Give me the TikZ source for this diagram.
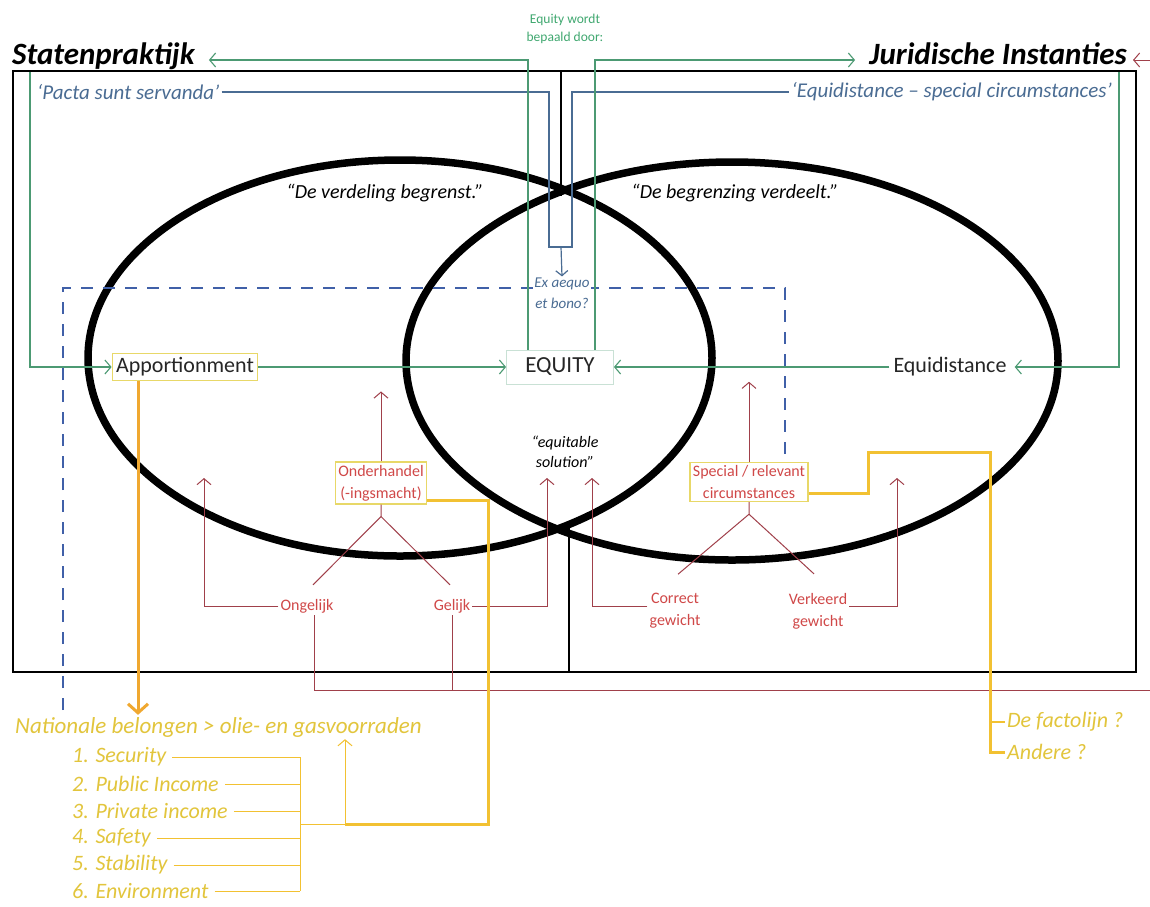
\documentclass[tikz,border=0pt]{standalone}
\usepackage{fontspec}
\setmainfont{Carlito}
\usetikzlibrary{arrows.meta,calc}
\definecolor{groen}{RGB}{76,154,115}
\definecolor{groentekst}{RGB}{64,168,112}
\definecolor{blauw}{RGB}{74,108,147}
\definecolor{blauwstreep}{RGB}{64,96,168}
\definecolor{roodlijn}{RGB}{160,64,74}
\definecolor{roodtekst}{RGB}{208,72,72}
\definecolor{geelrand}{RGB}{232,216,104}
\definecolor{geel}{RGB}{242,193,50}
\definecolor{oranje}{RGB}{240,168,48}
\definecolor{geeltekst}{RGB}{226,197,60}
\tikzset{%
    Titel/.style={%
        font=\fontsize{31}{36}\selectfont\bfseries\itshape,
        inner sep=0pt
    },
    Citaat/.style={%
        font=\fontsize{20}{24}\selectfont\itshape
    },
    Bron/.style={%
        font=\fontsize{21}{24}\selectfont\itshape,
        text=blauw,
        inner sep=2pt
    },
    Begrip/.style={%
        font=\fontsize{22}{26}\selectfont,
        text=black!85,
        inner sep=4pt
    },
    Begrip box/.style={%
        Begrip,
        draw=geelrand,
        line width=1pt
    },
    Factor/.style={%
        font=\fontsize{16}{22}\selectfont,
        text=roodtekst,
        align=center,
        inner sep=2pt
    },
    Factor box/.style={%
        Factor,
        draw=geelrand,
        line width=1.2pt,
        inner sep=3pt
    },
    Belang/.style={%
        font=\fontsize{22}{26}\selectfont\itshape,
        text=geeltekst,
        inner sep=2pt
    },
    Groen pijl/.style={%
        draw=groen,
        line width=1.1pt,
        -{Straight Barb[length=6pt,width=14pt]}
    },
    Rood lijn/.style={%
        draw=roodlijn,
        line width=1pt
    },
    Rood pijl/.style={%
        Rood lijn,
        -{Straight Barb[length=6pt,width=14pt]}
    },
    Blauw lijn/.style={%
        draw=blauw,
        line width=1.2pt
    },
    Geel dik/.style={%
        draw=geel,
        line width=3pt
    },
    Geel dun/.style={%
        draw=geel,
        line width=1pt
    }
}

\begin{document}
\begin{tikzpicture}[x=1pt,y=-1pt]
\useasboundingbox (0,0) rectangle (1150,906);
\fill[white] (0,0) rectangle (1150,906);

% kader en scheiding
\draw[line width=1.6pt] (13,71) rectangle (1136,672);
\draw[line width=1.4pt] (561,71) -- (561,196);
\draw[line width=1.4pt] (569,527) -- (569,672);

% titels
\node[Titel,anchor=base west] (staten) at (12,64) {Statenpraktijk};
\node[Titel,anchor=base east] (jur) at (1127,64) {Juridische Instanties};
\node[font=\fontsize{13.5}{18}\selectfont,text=groentekst,align=center]
    (bepaald) at (565,29) {Equity wordt\\bepaald door:};

% twee benaderingen
\draw[line width=7.5pt] (400,358) ellipse [x radius=312, y radius=198];
\draw[line width=7.5pt] (732,361) ellipse [x radius=326, y radius=199];

\node[Citaat] (verdeling) at (385,193) {“De verdeling begrenst.”};
\node[Citaat] (begrenzing) at (735,193) {“De begrenzing verdeelt.”};

\node[Bron,anchor=west] (pacta) at (35,92) {‘Pacta sunt servanda’};
\node[Bron,anchor=east] (equiq) at (1114,92)
    {‘Equidistance – special circumstances’};

% kernbegrippen
\node[Begrip box] (apport) at (185,367) {Apportionment};
\node[Begrip,draw=groen!30,line width=0.8pt,minimum width=107pt,
    minimum height=34pt,font=\fontsize{23}{26}\selectfont]
    (equity) at (560,367) {EQUITY};
\node[Begrip] (equid) at (950,367) {Equidistance};
\node[font=\fontsize{16}{20}\selectfont\itshape,align=center]
    (oplossing) at (565,452) {“equitable\\solution”};

\node[Factor box] (onder) at (381,483) {Onderhandel\\(-ingsmacht)};
\node[Factor] (onge) at (307,606) {Ongelijk};
\node[Factor] (gelijk) at (452,606) {Gelijk};
\node[Factor box] (spec) at (749,482) {Special / relevant\\circumstances};
\node[Factor] (correct) at (675,611) {Correct\\gewicht};
\node[Factor] (verkeerd) at (818,611) {Verkeerd\\gewicht};

% streepjeslijn
\draw[blauwstreep,line width=1.2pt,dash pattern=on 12pt off 10pt]
    (63,710) -- (63,288) -- (785,288) -- (spec.north -| 785,0);

\node[font=\fontsize{15}{21}\selectfont\itshape,text=blauw,fill=white,
    align=center,inner sep=1pt] (aequo) at (562,293) {Ex aequo\\et bono?};
\draw[Blauw lijn] (pacta.east) -- (549,92) -- (549,247) -- (572,247)
    -- (572,92) -- (equiq.west);
\draw[Blauw lijn,-{Straight Barb[length=5pt,width=12pt]}]
    (561,247) -- (aequo.north);

% groene pijlen
\coordinate (staten voet) at (30,72);
\coordinate (jur voet) at (1119,72);
\draw[Groen pijl] (apport.east) -- (equity.west);
\draw[Groen pijl] (equid.west) -- (equity.east);
\draw[Groen pijl] (staten voet) |- (apport.west);
\draw[Groen pijl] (jur voet) |- ([xshift=4pt]equid.east);
\draw[Groen pijl] ([xshift=-32pt]equity.north)
    |- ($(staten.base east)+(14,-4)$);
\draw[Groen pijl] ([xshift=35pt]equity.north)
    |- ($(jur.base west)+(-14,-4)$);

% rode pijlen
\draw[Rood pijl] (onder.north) -- ++(0,-70);
\draw[Rood lijn] (onder.south) -- ++(0,12) coordinate (onder tak)
    -- ([shift={(6,-12)}]onge.north);
\draw[Rood lijn] (onder tak) -- ([shift={(-2,-12)}]gelijk.north);
\draw[Rood pijl] (onge.west) -| (204,478);
\draw[Rood pijl] (gelijk.east) -| (547,478);

\draw[Rood pijl] (spec.north) -- ++(0,-80);
\draw[Rood lijn] (spec.south) -- ++(0,12) coordinate (spec tak)
    -- ([shift={(3,-17)}]correct.north);
\draw[Rood lijn] (spec tak) -- ([shift={(-4,-17)}]verkeerd.north);
\draw[Rood pijl] ([yshift=5pt]correct.west) -| (592,478);
\draw[Rood pijl] ([yshift=5pt]verkeerd.east) -| (897,478);

\draw[Rood pijl] ([xshift=7pt]onge.south) |- (1160,690)
    |- ($(jur.base east)+(6,-4)$);
\draw[Rood lijn] (gelijk.south) -- (gelijk.south |- 0,690);

% nationale belangen
\node[Belang,font=\fontsize{23}{26}\selectfont\itshape,anchor=west] (nat)
    at (13,727) {Nationale belongen > olie- en gasvoorraden};
\draw[draw=oranje,line width=3pt,-{Straight Barb[length=9pt,width=20pt]}]
    (apport.south -| 138,0) -- (nat.north -| 138,0);

\foreach \nr/\tekst/\y in {1/Security/757,2/Public Income/784,
    3/Private income/811,4/Safety/838,5/Stability/865,6/Environment/891}{
    \node[Belang,anchor=west] (belang\nr) at (70,\y) {\nr. \tekst};
    \draw[Geel dun] ([xshift=4pt]belang\nr.east) -- (300,\y);
}
\draw[Geel dun] (belang1.east -| 300,0) -- (belang6.east -| 300,0);
\coordinate (belang knoop) at (345,824);
\draw[Geel dun] (300,824) -- (belang knoop);
\draw[Geel dun,-{Straight Barb[length=6pt,width=14pt]}]
    (belang knoop) -- (belang knoop |- nat.south);
\draw[Geel dik] ([yshift=4pt]onder.south east) -- ++(61,0)
    |- (belang knoop);

% feitelijke lijnen
\node[Belang,anchor=west] (facto) at (1005,722) {De factolijn ?};
\node[Belang,anchor=west] (andere) at (1005,752) {Andere ?};
\draw[Geel dik] ([yshift=9pt]spec.south east) -- ++(60,0) |- (990,452)
    |- (andere.west);
\draw[Geel dun,line width=2pt] (990,722) -- (facto.west);

\end{tikzpicture}
\end{document}
